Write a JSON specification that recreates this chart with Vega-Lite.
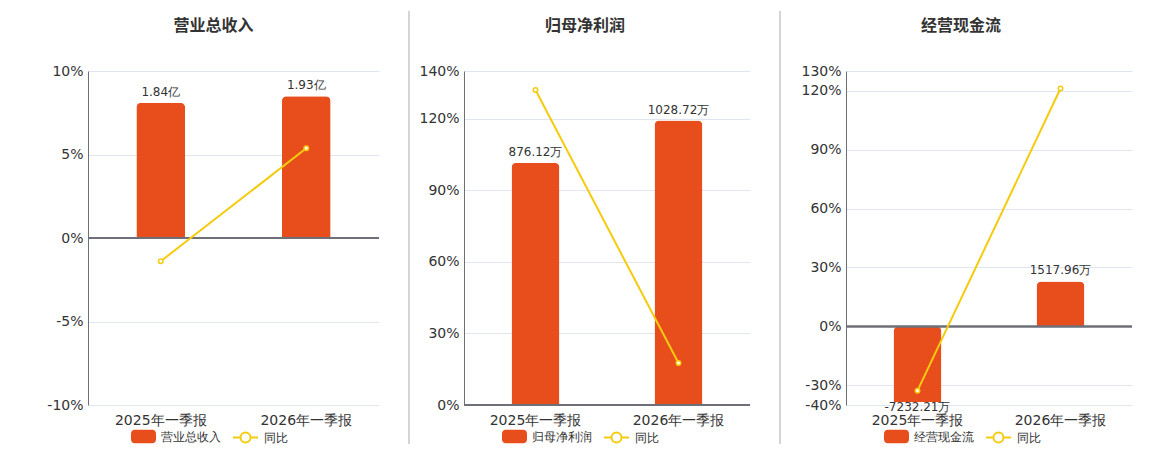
{
  "$schema": "https://vega.github.io/schema/vega-lite/v6.json",
  "padding": {"left": 46, "top": 10, "right": 0, "bottom": 0},
  "spacing": 8,
  "hconcat": [
    {
      "width": 291,
      "height": 334,
      "title": {"text": "营业总收入", "frame": "bounds", "anchor": "middle", "fontSize": 16, "fontWeight": "bold", "color": "#333333", "font": "Noto Sans CJK SC", "offset": 30},
      "data": {"values": [
        {"period": "2025年一季报", "value": 1.84, "label": "1.84亿", "yoy": -1.39},
        {"period": "2026年一季报", "value": 1.93, "label": "1.93亿", "yoy": 5.37}
      ]},
      "layer": [
        {"encoding": {
          "x": {"field": "period", "type": "nominal", "sort": null, "scale": {"paddingInner": 0, "paddingOuter": 0},
                "axis": {"title": null, "labelAngle": 0, "domain": false, "ticks": false, "grid": false, "labelPadding": 8, "labelFontSize": 14, "labelColor": "#333333"}}
         },
         "layer": [
          {"mark": {"type": "bar", "width": {"band": 0.335}, "cornerRadiusEnd": 5},
           "encoding": {
             "y": {"field": "value", "type": "quantitative", "axis": null, "scale": {"domain": [-2.272, 2.272], "nice": false}},
             "fill": {"datum": "营业总收入", "type": "nominal", "scale": {"range": ["#E84D1C"]},
                      "legend": {"orient": "none", "legendX": 43, "legendY": 353, "title": null, "padding": 0, "symbolSize": 625, "symbolStrokeWidth": 0, "labelOffset": 5, "labelFontSize": 12, "labelColor": "#333333",
                                 "symbolType": "M-0.7,-0.54H0.7A0.3,0.3 0 0 1 1,-0.24V0.24A0.3,0.3 0 0 1 0.7,0.54H-0.7A0.3,0.3 0 0 1 -1,0.24V-0.24A0.3,0.3 0 0 1 -0.7,-0.54Z"}}
           }},
          {"transform": [{"filter": "datum.value >= 0"}],
           "mark": {"type": "text", "dy": -11, "fontSize": 12, "color": "#333333"},
           "encoding": {"y": {"field": "value", "type": "quantitative", "axis": null}, "text": {"field": "label"}}},
          {"transform": [{"filter": "datum.value < 0"}],
           "mark": {"type": "text", "dy": 5, "fontSize": 12, "color": "#333333"},
           "encoding": {"y": {"field": "value", "type": "quantitative", "axis": null}, "text": {"field": "label"}}}
        ]},
        {"layer": [
          {"mark": {"type": "rule", "color": "#6E7079", "strokeWidth": 2},
           "encoding": {"y": {"datum": 0, "type": "quantitative"}}},
          {"mark": {"type": "line", "strokeWidth": 2},
           "encoding": {
             "x": {"field": "period", "type": "nominal", "sort": null},
             "y": {"field": "yoy", "type": "quantitative", "scale": {"domain": [-10, 10], "nice": false},
                   "axis": {"orient": "left", "title": null, "values": [-10, -5, 0, 5, 10], "labelExpr": "datum.value + '%'", "grid": true, "gridColor": "#E0E6F1", "domainColor": "#6E7079", "ticks": false, "labelFontSize": 14, "labelColor": "#333333", "labelPadding": 5}},
             "stroke": {"datum": "同比", "type": "nominal", "scale": {"range": ["#F5CB0F"]},
                        "legend": {"orient": "none", "legendX": 144, "legendY": 353, "title": null, "padding": 0, "symbolSize": 625, "symbolStrokeWidth": 2, "labelOffset": 5, "labelFontSize": 12, "labelColor": "#333333",
                                   "symbolType": "M-1,0H-0.4M0.4,0H1M0.4,0A0.4,0.4 0 1 1 -0.4,0A0.4,0.4 0 1 1 0.4,0"}}
           }},
          {"mark": {"type": "point", "filled": false, "fill": "white", "size": 20, "strokeWidth": 1.5, "opacity": 1},
           "encoding": {"x": {"field": "period", "type": "nominal", "sort": null}, "y": {"field": "yoy", "type": "quantitative"}, "stroke": {"datum": "同比", "type": "nominal"}}}
        ]}
      ],
      "resolve": {"scale": {"y": "independent"}}
    },
    {
      "width": 21,
      "height": 334,
      "data": {"values": [{}]},
      "mark": {"type": "rule", "color": "#AAAAAA", "strokeWidth": 1},
      "encoding": {
        "x": {"datum": 1, "type": "quantitative", "scale": {"domain": [0, 1]}, "axis": null},
        "y": {"datum": 1.18, "type": "quantitative", "scale": {"domain": [0, 1], "nice": false, "zero": false}, "axis": null},
        "y2": {"datum": -0.117}
      }
    },
    {
      "width": 286,
      "height": 334,
      "title": {"text": "归母净利润", "frame": "bounds", "anchor": "middle", "fontSize": 16, "fontWeight": "bold", "color": "#333333", "font": "Noto Sans CJK SC", "offset": 30},
      "data": {"values": [
        {"period": "2025年一季报", "value": 876.12, "label": "876.12万", "yoy": 132.0},
        {"period": "2026年一季报", "value": 1028.72, "label": "1028.72万", "yoy": 17.6}
      ]},
      "layer": [
        {"encoding": {
          "x": {"field": "period", "type": "nominal", "sort": null, "scale": {"paddingInner": 0, "paddingOuter": 0},
                "axis": {"title": null, "labelAngle": 0, "domain": false, "ticks": false, "grid": false, "labelPadding": 8, "labelFontSize": 14, "labelColor": "#333333"}}
         },
         "layer": [
          {"mark": {"type": "bar", "width": {"band": 0.335}, "cornerRadiusEnd": 5},
           "encoding": {
             "y": {"field": "value", "type": "quantitative", "axis": null, "scale": {"domain": [0, 1208], "nice": false}},
             "fill": {"datum": "归母净利润", "type": "nominal", "scale": {"range": ["#E84D1C"]},
                      "legend": {"orient": "none", "legendX": 38, "legendY": 353, "title": null, "padding": 0, "symbolSize": 625, "symbolStrokeWidth": 0, "labelOffset": 5, "labelFontSize": 12, "labelColor": "#333333",
                                 "symbolType": "M-0.7,-0.54H0.7A0.3,0.3 0 0 1 1,-0.24V0.24A0.3,0.3 0 0 1 0.7,0.54H-0.7A0.3,0.3 0 0 1 -1,0.24V-0.24A0.3,0.3 0 0 1 -0.7,-0.54Z"}}
           }},
          {"transform": [{"filter": "datum.value >= 0"}],
           "mark": {"type": "text", "dy": -11, "fontSize": 12, "color": "#333333"},
           "encoding": {"y": {"field": "value", "type": "quantitative", "axis": null}, "text": {"field": "label"}}},
          {"transform": [{"filter": "datum.value < 0"}],
           "mark": {"type": "text", "dy": 5, "fontSize": 12, "color": "#333333"},
           "encoding": {"y": {"field": "value", "type": "quantitative", "axis": null}, "text": {"field": "label"}}}
        ]},
        {"layer": [
          {"mark": {"type": "rule", "color": "#6E7079", "strokeWidth": 2},
           "encoding": {"y": {"datum": 0, "type": "quantitative"}}},
          {"mark": {"type": "line", "strokeWidth": 2},
           "encoding": {
             "x": {"field": "period", "type": "nominal", "sort": null},
             "y": {"field": "yoy", "type": "quantitative", "scale": {"domain": [0, 140], "nice": false},
                   "axis": {"orient": "left", "title": null, "values": [0, 30, 60, 90, 120, 140], "labelExpr": "datum.value + '%'", "grid": true, "gridColor": "#E0E6F1", "domainColor": "#6E7079", "ticks": false, "labelFontSize": 14, "labelColor": "#333333", "labelPadding": 5}},
             "stroke": {"datum": "同比", "type": "nominal", "scale": {"range": ["#F5CB0F"]},
                        "legend": {"orient": "none", "legendX": 139, "legendY": 353, "title": null, "padding": 0, "symbolSize": 625, "symbolStrokeWidth": 2, "labelOffset": 5, "labelFontSize": 12, "labelColor": "#333333",
                                   "symbolType": "M-1,0H-0.4M0.4,0H1M0.4,0A0.4,0.4 0 1 1 -0.4,0A0.4,0.4 0 1 1 0.4,0"}}
           }},
          {"mark": {"type": "point", "filled": false, "fill": "white", "size": 20, "strokeWidth": 1.5, "opacity": 1},
           "encoding": {"x": {"field": "period", "type": "nominal", "sort": null}, "y": {"field": "yoy", "type": "quantitative"}, "stroke": {"datum": "同比", "type": "nominal"}}}
        ]}
      ],
      "resolve": {"scale": {"y": "independent"}}
    },
    {
      "width": 21,
      "height": 334,
      "data": {"values": [{}]},
      "mark": {"type": "rule", "color": "#AAAAAA", "strokeWidth": 1},
      "encoding": {
        "x": {"datum": 1, "type": "quantitative", "scale": {"domain": [0, 1]}, "axis": null},
        "y": {"datum": 1.18, "type": "quantitative", "scale": {"domain": [0, 1], "nice": false, "zero": false}, "axis": null},
        "y2": {"datum": -0.117}
      }
    },
    {
      "width": 286,
      "height": 334,
      "title": {"text": "经营现金流", "frame": "bounds", "anchor": "middle", "fontSize": 16, "fontWeight": "bold", "color": "#333333", "font": "Noto Sans CJK SC", "offset": 30},
      "data": {"values": [
        {"period": "2025年一季报", "value": -7232.21, "label": "-7232.21万", "yoy": -32.7},
        {"period": "2026年一季报", "value": 1517.96, "label": "1517.96万", "yoy": 121.1}
      ]},
      "layer": [
        {"encoding": {
          "x": {"field": "period", "type": "nominal", "sort": null, "scale": {"paddingInner": 0, "paddingOuter": 0},
                "axis": {"title": null, "labelAngle": 0, "domain": false, "ticks": false, "grid": false, "labelPadding": 8, "labelFontSize": 14, "labelColor": "#333333"}}
         },
         "layer": [
          {"mark": {"type": "bar", "width": {"band": 0.335}, "cornerRadiusEnd": 5},
           "encoding": {
             "y": {"field": "value", "type": "quantitative", "axis": null, "scale": {"type": "symlog", "constant": 200, "domain": [-8362, 39998600], "nice": false}},
             "fill": {"datum": "经营现金流", "type": "nominal", "scale": {"range": ["#E84D1C"]},
                      "legend": {"orient": "none", "legendX": 38, "legendY": 353, "title": null, "padding": 0, "symbolSize": 625, "symbolStrokeWidth": 0, "labelOffset": 5, "labelFontSize": 12, "labelColor": "#333333",
                                 "symbolType": "M-0.7,-0.54H0.7A0.3,0.3 0 0 1 1,-0.24V0.24A0.3,0.3 0 0 1 0.7,0.54H-0.7A0.3,0.3 0 0 1 -1,0.24V-0.24A0.3,0.3 0 0 1 -0.7,-0.54Z"}}
           }},
          {"transform": [{"filter": "datum.value >= 0"}],
           "mark": {"type": "text", "dy": -11, "fontSize": 12, "color": "#333333"},
           "encoding": {"y": {"field": "value", "type": "quantitative", "axis": null}, "text": {"field": "label"}}},
          {"transform": [{"filter": "datum.value < 0"}],
           "mark": {"type": "text", "dy": 5, "fontSize": 12, "color": "#333333"},
           "encoding": {"y": {"field": "value", "type": "quantitative", "axis": null}, "text": {"field": "label"}}}
        ]},
        {"layer": [
          {"mark": {"type": "rule", "color": "#6E7079", "strokeWidth": 2},
           "encoding": {"y": {"datum": 0, "type": "quantitative"}}},
          {"mark": {"type": "line", "strokeWidth": 2},
           "encoding": {
             "x": {"field": "period", "type": "nominal", "sort": null},
             "y": {"field": "yoy", "type": "quantitative", "scale": {"domain": [-40, 130], "nice": false},
                   "axis": {"orient": "left", "title": null, "values": [-40, -30, 0, 30, 60, 90, 120, 130], "labelExpr": "datum.value + '%'", "grid": true, "gridColor": "#E0E6F1", "domainColor": "#6E7079", "ticks": false, "labelFontSize": 14, "labelColor": "#333333", "labelPadding": 5, "minExtent": 57}},
             "stroke": {"datum": "同比", "type": "nominal", "scale": {"range": ["#F5CB0F"]},
                        "legend": {"orient": "none", "legendX": 139, "legendY": 353, "title": null, "padding": 0, "symbolSize": 625, "symbolStrokeWidth": 2, "labelOffset": 5, "labelFontSize": 12, "labelColor": "#333333",
                                   "symbolType": "M-1,0H-0.4M0.4,0H1M0.4,0A0.4,0.4 0 1 1 -0.4,0A0.4,0.4 0 1 1 0.4,0"}}
           }},
          {"mark": {"type": "point", "filled": false, "fill": "white", "size": 20, "strokeWidth": 1.5, "opacity": 1},
           "encoding": {"x": {"field": "period", "type": "nominal", "sort": null}, "y": {"field": "yoy", "type": "quantitative"}, "stroke": {"datum": "同比", "type": "nominal"}}}
        ]}
      ],
      "resolve": {"scale": {"y": "independent"}}
    }
  ],
  "resolve": {
    "scale": {"fill": "independent", "stroke": "independent"},
    "legend": {"fill": "independent", "stroke": "independent"}
  },
  "config": {
    "font": "DejaVu Sans",
    "view": {"stroke": null}
  }
}
